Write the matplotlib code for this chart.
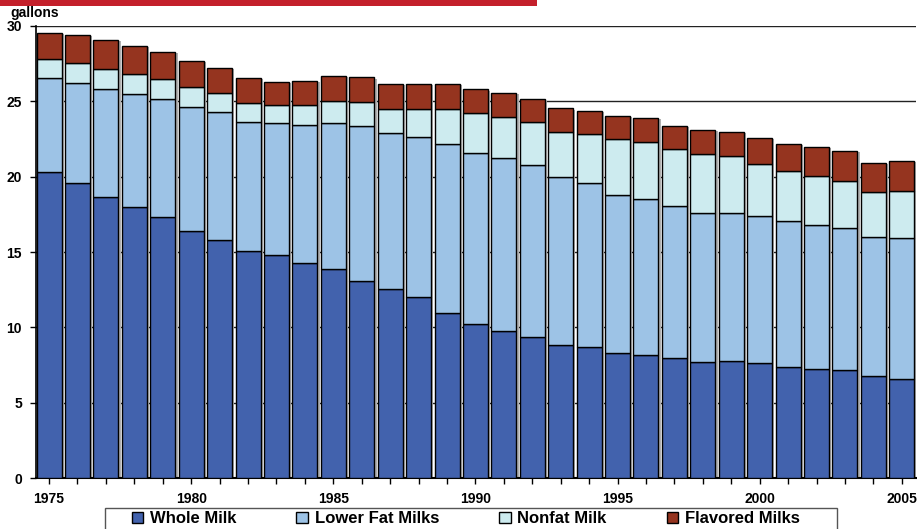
import numpy as np
import matplotlib
matplotlib.use("Agg")
import matplotlib.pyplot as plt
from matplotlib.patches import Rectangle

plt.rcParams['font.family'] = ['Liberation Sans', 'DejaVu Sans']

years = list(range(1975, 2006))
whole = [20.3, 19.6, 18.65, 18.0, 17.3, 16.4, 15.8, 15.05, 14.8, 14.3, 13.9,
         13.1, 12.55, 12.0, 10.95, 10.2, 9.75, 9.35, 8.85, 8.7, 8.3,
         8.15, 7.95, 7.7, 7.75, 7.65, 7.4, 7.25, 7.15, 6.8, 6.55]
lower_fat = [6.24, 6.6, 7.15, 7.5, 7.85, 8.2, 8.5, 8.6, 8.75, 9.1, 9.65,
             10.25, 10.35, 10.6, 11.25, 11.35, 11.5, 11.4, 11.1, 10.9, 10.5,
             10.35, 10.1, 9.9, 9.85, 9.75, 9.65, 9.55, 9.45, 9.2, 9.4]
nonfat = [1.26, 1.34, 1.34, 1.3, 1.33, 1.35, 1.25, 1.25, 1.2, 1.35, 1.45,
          1.59, 1.6, 1.9, 2.3, 2.65, 2.72, 2.85, 3.03, 3.22, 3.72,
          3.79, 3.78, 3.92, 3.79, 3.45, 3.32, 3.25, 3.12, 2.99, 3.11]
flavored = [1.75, 1.86, 1.92, 1.87, 1.79, 1.72, 1.65, 1.64, 1.53, 1.59, 1.68,
            1.65, 1.64, 1.64, 1.64, 1.59, 1.6, 1.53, 1.55, 1.55, 1.52,
            1.59, 1.53, 1.59, 1.59, 1.72, 1.79, 1.92, 1.99, 1.92, 1.99]

series = [("Whole Milk", whole, "#4262ad"),
          ("Lower Fat Milks", lower_fat, "#9dc3e6"),
          ("Nonfat Milk", nonfat, "#cdebef"),
          ("Flavored Milks", flavored, "#95341f")]

fig = plt.figure(figsize=(9.17, 5.29), dpi=100)
ax = fig.add_axes([36/917, 51/529, 880/917, 452/529])

# red banner along the top
fig.patches.append(Rectangle((0, 1 - 6/529), 537/917, 6/529, transform=fig.transFigure,
                             facecolor="#c4202b", edgecolor="none"))

handles = []
bottom = np.zeros(len(years))
for name, vals, col in series:
    # faint shadow
    ax.bar(np.array(years) + 0.08, vals, width=0.88, bottom=bottom - 0.08,
           color="#b0b0b0", edgecolor="none", zorder=2)
    b = ax.bar(years, vals, width=0.88, bottom=bottom, color=col,
               edgecolor="black", linewidth=1.0, label=name, zorder=3)
    handles.append(b)
    bottom += np.array(vals)

ax.set_xlim(1974.54, 2005.5)
ax.set_ylim(0, 30)
ax.set_yticks(range(0, 31, 5))
ax.yaxis.grid(True, color="#222222", linewidth=1.0)
ax.set_axisbelow(True)

ax.set_xticks(range(1975, 2006, 5))
ax.set_xticks(years, minor=True)
ax.tick_params(axis='x', which='both', direction='out', length=4, width=1, pad=6)
ax.tick_params(axis='y', direction='out', length=4, width=1, pad=6)
for lab in ax.get_xticklabels() + ax.get_yticklabels():
    lab.set_fontweight('bold')
    lab.set_fontsize(10)

for s in ['top', 'right']:
    ax.spines[s].set_visible(False)
ax.spines['left'].set_linewidth(1.2)
ax.spines['bottom'].set_linewidth(1.5)

fig.text(10/917, 1 - 13/529, "gallons", fontsize=10, fontweight='bold', va='center')

# legend box (cut off by the bottom edge)
fig.patches.append(Rectangle((105/917, -0.01), 732/917, 0.01 + 21/529, transform=fig.transFigure,
                             facecolor="white", edgecolor="#555555", linewidth=1.0, zorder=5))
leg = fig.legend(handles, [s[0] for s in series], loc='upper center',
                 bbox_to_anchor=(0.508, 1 - 507/529),
                 ncol=4, frameon=False,
                 prop={'weight': 'bold', 'size': 12}, handlelength=0.7, handleheight=0.7,
                 columnspacing=3.6, handletextpad=0.4, borderpad=0.25, borderaxespad=0)
leg.set_zorder(6)

fig.savefig("out.png", dpi=100)
